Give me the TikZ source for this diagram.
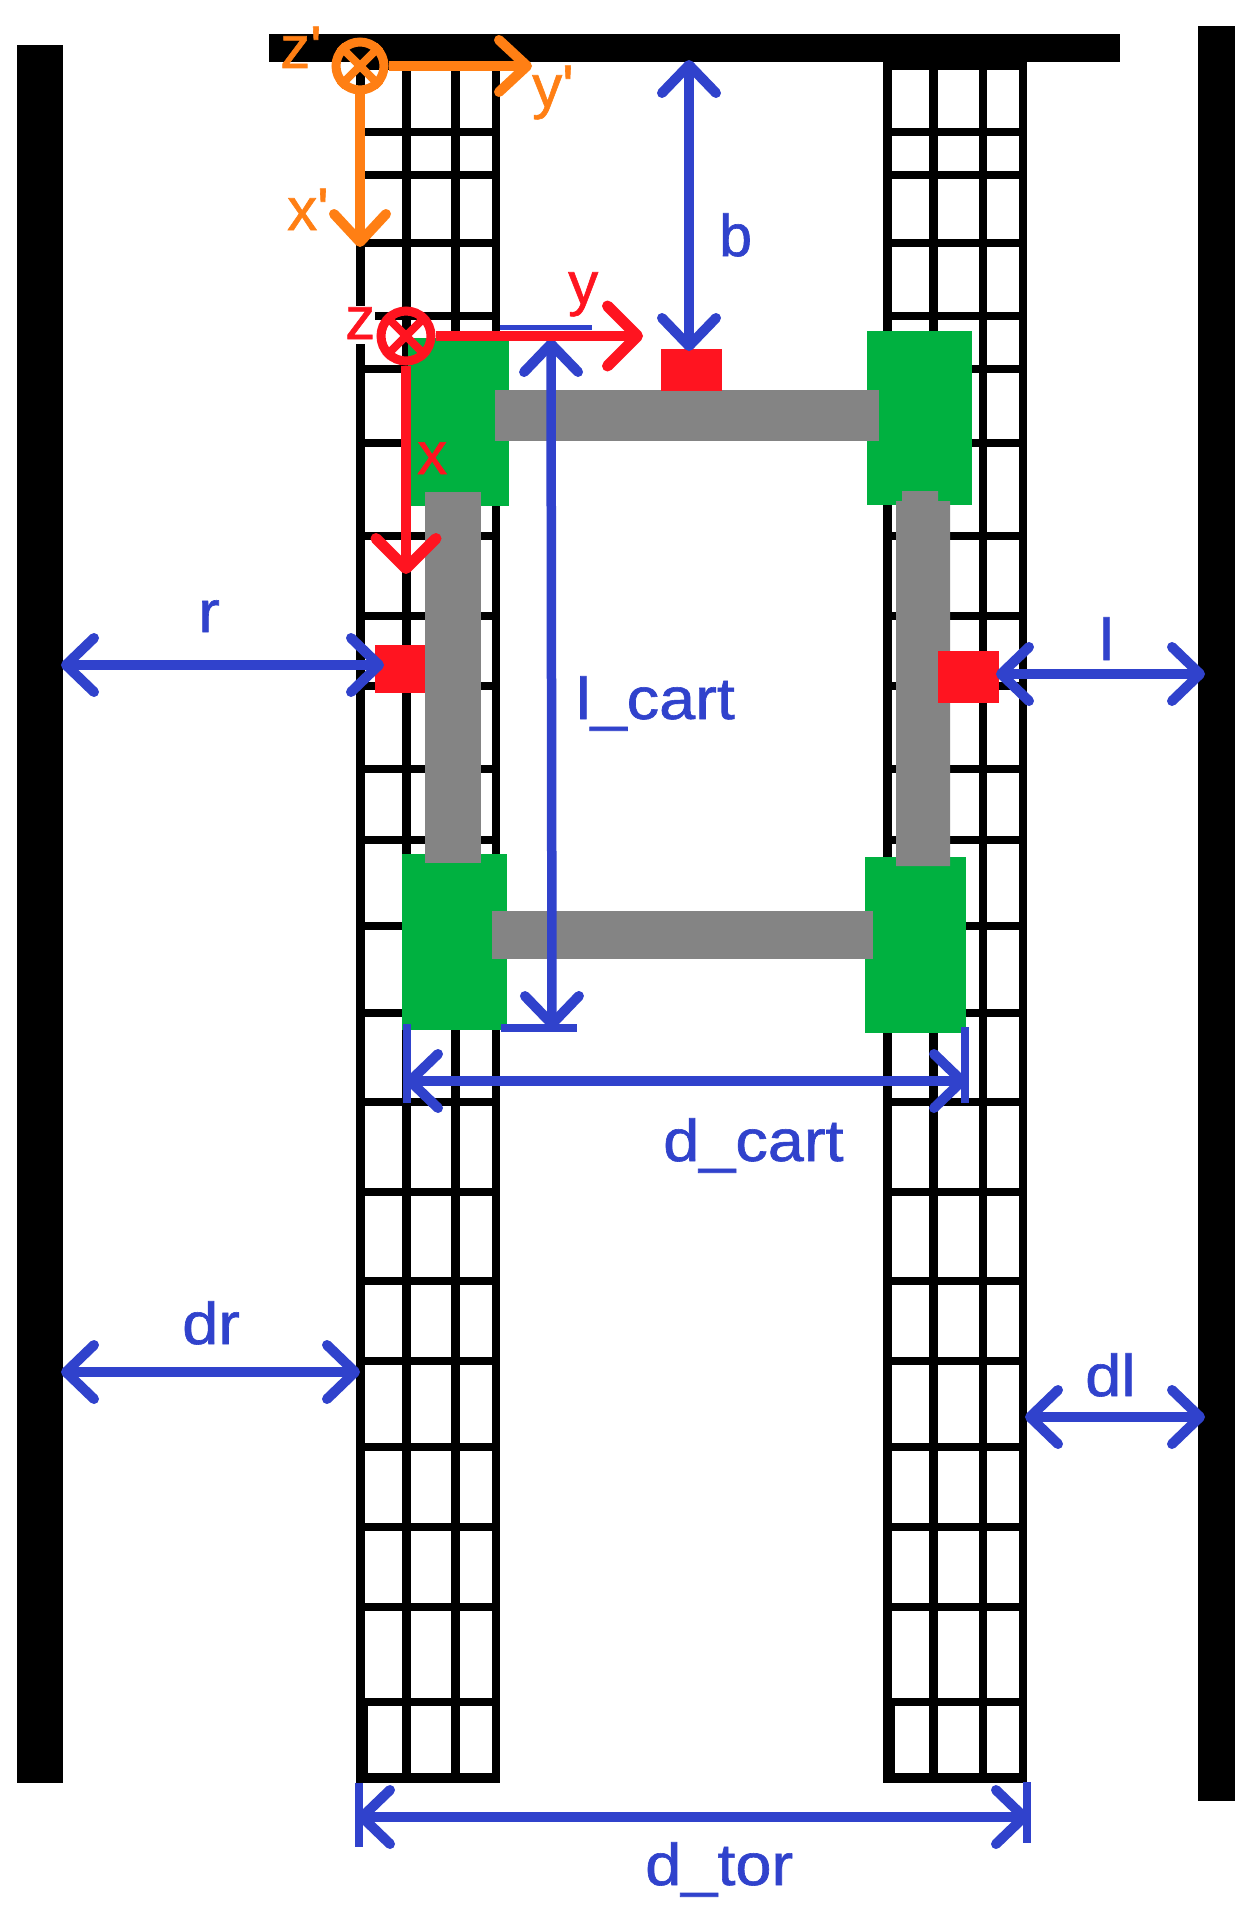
\documentclass[tikz,border=0pt]{standalone}
\usepackage{fontspec}
\setmainfont{Liberation Sans}[BoldFont=Liberation Sans,BoldFeatures={FakeBold=1.0}]
\usetikzlibrary{arrows.meta}
\definecolor{dimblue}{HTML}{3042CC}
\definecolor{cartgreen}{HTML}{00B140}
\definecolor{bargrey}{HTML}{848484}
\definecolor{markred}{HTML}{FF1420}
\definecolor{frameorange}{HTML}{FF7F14}
\newcommand{\wide}[1]{\scalebox{1.1}[1]{#1}}
\tikzset{
  x=1pt,y=-1pt,
  gridline/.style={draw=black,line width=8.8pt},
  wall/.style={fill=black},
  cartbody/.style={fill=cartgreen},
  cartbar/.style={fill=bargrey},
  sensor/.style={fill=markred},
  dimarrow/.style={draw=dimblue,line width=9.5pt,{Straight Barb[length=28pt,width=54pt,line width=10pt,round]}-{Straight Barb[length=28pt,width=54pt,line width=10pt,round]}},
  dimtick/.style={draw=dimblue,line width=8pt},
  dimtext/.style={inner sep=0pt,anchor=base west,text=dimblue,font=\fontsize{59}{60}\selectfont\bfseries},
  redaxis/.style={draw=markred,line width=10pt,-{Straight Barb[length=30pt,width=60pt,line width=11pt,round]}},
  orangeaxis/.style={draw=frameorange,line width=10pt,-{Straight Barb[length=28pt,width=52pt,line width=10pt,round]}},
  redtext/.style={inner sep=0pt,anchor=base west,text=markred,font=\fontsize{60}{60}\selectfont\bfseries},
  orangetext/.style={inner sep=0pt,anchor=base west,text=frameorange,font=\fontsize{60}{60}\selectfont\bfseries},
  redorigin/.style={circle,draw=markred,line width=9pt,minimum size=50pt,inner sep=0pt},
  orangeorigin/.style={circle,draw=frameorange,line width=9pt,minimum size=48pt,inner sep=0pt},
}
\begin{document}
\begin{tikzpicture}
\useasboundingbox[fill=white] (0,0) rectangle (1258,1916);
% walls and top bar
\fill[wall] (17,45) rectangle (63,1783);
\fill[wall] (1198,26) rectangle (1235,1801);
\fill[wall] (269,34) rectangle (1120,62);
% grids
\foreach \yy in {66,132,175,243,316,369,443,536,616,686,769,840,926,1013,1102,1192,1281,1361,1447,1527,1607,1702}{
  \draw[gridline] (356,\yy) -- (500,\yy);
  \draw[gridline] (883,\yy) -- (1027,\yy);
}
\foreach \xx in {360.5,406.5,455.5,496,887.5,933.5,983,1023}{
  \draw[gridline] (\xx,62) -- (\xx,1783);
}
\fill[wall] (356,1773) rectangle (500,1783);
\fill[wall] (883,1773) rectangle (1027,1783);
\fill[wall] (356,1702) rectangle (368,1783);
\fill[wall] (883,1702) rectangle (895,1783);
% gap behind the z label
\fill[white] (342,306) rectangle (375,344);
% cart wheels
\fill[cartbody] (408,338) rectangle (509,506);
\fill[cartbody] (867,331) rectangle (972,505);
\fill[cartbody] (402,854) rectangle (507,1030);
\fill[cartbody] (865,857) rectangle (966,1033);
% cart bars
\fill[cartbar] (495,390) rectangle (879,441);
\fill[cartbar] (492,911) rectangle (873,959);
\fill[cartbar] (425,492) rectangle (481,863);
\fill[cartbar] (896,501) -- (902,501) -- (902,491) -- (938,491) -- (938,501) -- (950,501) -- (950,866) -- (896,866) -- cycle;
% sensors
\fill[sensor] (661,349) rectangle (722,391);
\fill[sensor] (375,645) rectangle (425,693);
\fill[sensor] (938,651) rectangle (999,703);
% dimension end points
\coordinate (bTop) at (689,60);
\coordinate (bBot) at (689,351);
\coordinate (lcTop) at (551,339);
\coordinate (lcBot) at (552,1029);
\coordinate (lcExtTopA) at (500,327);
\coordinate (lcExtTopB) at (592,327);
\coordinate (lcExtBotA) at (501,1028);
\coordinate (lcExtBotB) at (577,1028);
\coordinate (rA) at (61,665);
\coordinate (rB) at (384,665);
\coordinate (lA) at (996,674);
\coordinate (lB) at (1205,674);
\coordinate (dcA) at (405,1081);
\coordinate (dcB) at (967,1081);
\coordinate (dcTickAa) at (407,1024);
\coordinate (dcTickAb) at (407,1103);
\coordinate (dcTickBa) at (965,1027);
\coordinate (dcTickBb) at (965,1103);
\coordinate (dtA) at (357,1817);
\coordinate (dtB) at (1029,1817);
\coordinate (dtTickAa) at (359,1783);
\coordinate (dtTickAb) at (359,1847);
\coordinate (dtTickBa) at (1027,1782);
\coordinate (dtTickBb) at (1027,1843);
\coordinate (drA) at (61,1372);
\coordinate (drB) at (360,1372);
\coordinate (dlA) at (1025,1417);
\coordinate (dlB) at (1205,1417);
% dimension lines
\draw[dimtick,line width=5pt] (lcExtTopA) -- (lcExtTopB);
\draw[dimtick] (lcExtBotA) -- (lcExtBotB);
\draw[dimtick] (dcTickAa) -- (dcTickAb);
\draw[dimtick] (dcTickBa) -- (dcTickBb);
\draw[dimtick] (dtTickAa) -- (dtTickAb);
\draw[dimtick] (dtTickBa) -- (dtTickBb);
\draw[dimarrow] (bTop) -- (bBot);
\draw[dimarrow] (lcTop) -- (lcBot);
\draw[dimarrow] (rA) -- (rB);
\draw[dimarrow] (lA) -- (lB);
\draw[dimarrow] (dcA) -- (dcB);
\draw[dimarrow] (dtA) -- (dtB);
\draw[dimarrow] (drA) -- (drB);
\draw[dimarrow] (dlA) -- (dlB);
% dimension labels
\node[dimtext] (tb) at (719,256) {b};
\node[dimtext] (tlc) at (576,719) {\wide{l\_cart}};
\node[dimtext] (tdc) at (663,1161) {\wide{d\_cart}};
\node[dimtext] (tdt) at (645,1885) {\wide{d\_tor}};
\node[dimtext] (tdr) at (182,1344) {\wide{dr}};
\node[dimtext] (tdl) at (1085,1396) {\wide{dl}};
\node[dimtext] (tr) at (198,632) {\wide{r}};
\node[dimtext] (tl) at (1099,660) {\wide{l}};
% orange frame
\node[orangeorigin] (oO) at (360,66) {};
\draw[draw=frameorange,line width=8pt] (oO.45) -- (oO.225) (oO.135) -- (oO.315);
\coordinate (oY) at (532,66);
\coordinate (oX) at (360,247);
\draw[orangeaxis] (oO.east) -- (oY);
\draw[orangeaxis] (oO.south) -- (oX);
\node[orangetext] (tzp) at (280,68) {z\textquotesingle};
\node[orangetext] (typ) at (532,107) {y\textquotesingle};
\node[orangetext] (txp) at (287,230) {x\textquotesingle};
% red frame
\node[redorigin] (rO) at (406,336) {};
\draw[draw=markred,line width=8pt] (rO.45) -- (rO.225) (rO.135) -- (rO.315);
\coordinate (rY) at (643,336);
\coordinate (rX) at (406,574);
\draw[redaxis] (rO.east) -- (rY);
\draw[redaxis] (rO.south) -- (rX);
\node[redtext] (tz) at (345,339) {z};
\node[redtext] (ty) at (568,304) {y};
\node[redtext] (tx) at (417,474) {x};
\end{tikzpicture}
\end{document}
